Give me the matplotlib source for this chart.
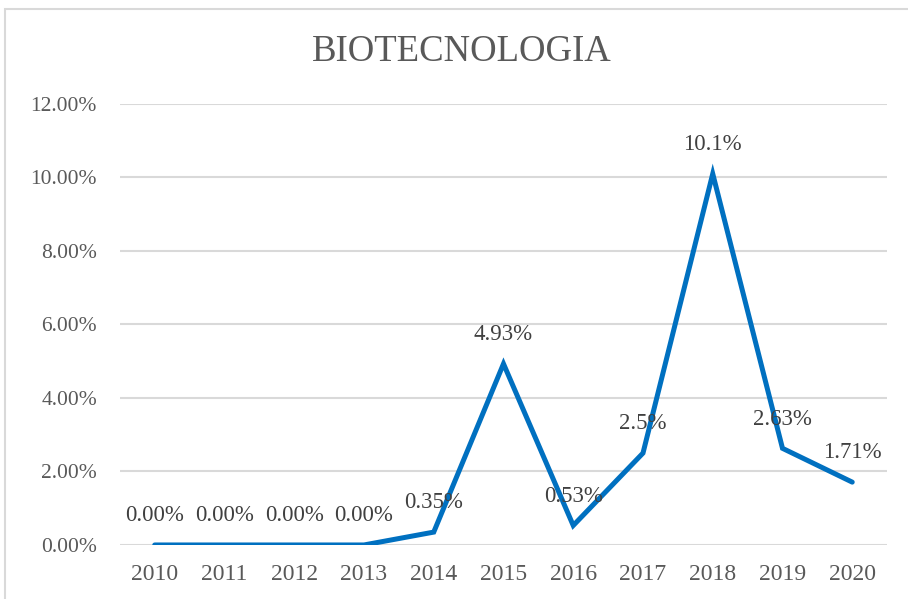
import matplotlib.pyplot as plt
from matplotlib.patches import Rectangle

years = ["2010", "2011", "2012", "2013", "2014", "2015", "2016", "2017", "2018", "2019", "2020"]
values = [0.0, 0.0, 0.0, 0.0, 0.35, 4.93, 0.53, 2.5, 10.1, 2.63, 1.71]
labels = ["0.00%", "0.00%", "0.00%", "0.00%", "0.35%", "4.93%", "0.53%", "2.5%", "10.1%", "2.63%", "1.71%"]
yticks = [0, 2, 4, 6, 8, 10, 12]

plt.rcParams["font.family"] = ["Liberation Serif", "DejaVu Serif"]
text_color = "#595959"

fig = plt.figure(figsize=(9.08, 5.99), dpi=100)
ax = fig.add_axes([0.132, 0.0902, 0.845, 0.7362])

x = list(range(len(years)))
ax.plot(x, values, color="#0070C0", linewidth=3.6, solid_capstyle="round", solid_joinstyle="miter", zorder=3)

for xi, v, lab in zip(x, values, labels):
    ax.annotate(lab, (xi, v), xytext=(0, 21), textcoords="offset points",
                ha="center", va="center", fontsize=16.5, color="#404040", zorder=4)

ax.set_xlim(-0.5, len(years) - 0.5)
ax.set_ylim(0, 12)
ax.set_xticks(x)
ax.set_xticklabels(years)
ax.set_yticks(yticks)
ax.set_yticklabels([f"{t:.2f}%" for t in yticks])
ax.tick_params(axis="x", length=0, pad=14, labelsize=17, labelcolor=text_color)
ax.tick_params(axis="y", length=0, pad=16.5, labelsize=15.5, labelcolor=text_color)
ax.grid(axis="y", color="#D9D9D9", linewidth=1.5)
ax.set_axisbelow(True)
for s in ax.spines.values():
    s.set_visible(False)

fig.text(0.509, 0.913, "BIOTECNOLOGIA", ha="center", va="center", fontsize=26.5, color=text_color)

# chart border
fig.patches.append(Rectangle((5 / 908, -0.1), 1.1, 1 - 9 / 599 + 0.1, transform=fig.transFigure,
                             fill=False, edgecolor="#D9D9D9", linewidth=1.5))

fig.savefig("out.png", dpi=100)
